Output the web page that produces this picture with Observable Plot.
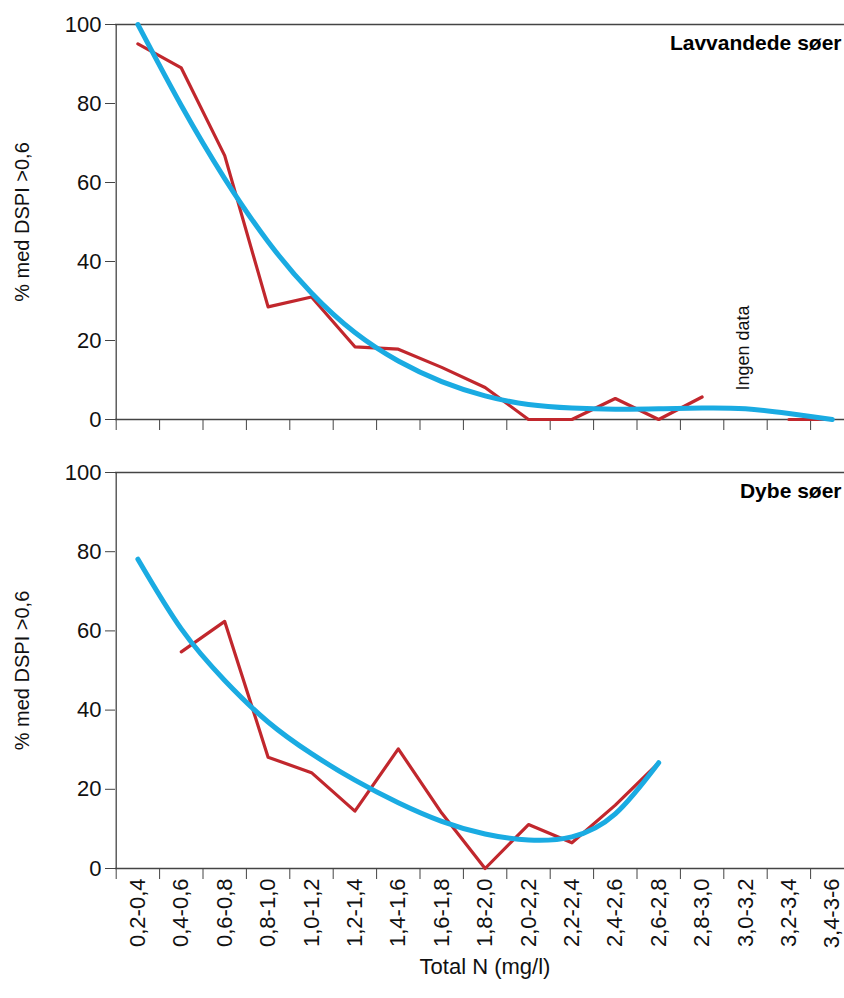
<!DOCTYPE html>
<html>
<head>
<meta charset="utf-8">
<script src="https://cdn.jsdelivr.net/npm/d3@7"></script>
<script src="https://cdn.jsdelivr.net/npm/@observablehq/plot@0.6"></script>
<style>
  html, body { margin: 0; padding: 0; background: #fff; }
  #chart { width: 844px; }
  #chart svg { display: block; }
</style>
</head>
<body>
<div id="chart"></div>
<script>
// Categories (Total N, mg/l)
const categories = ["0,2-0,4","0,4-0,6","0,6-0,8","0,8-1,0","1,0-1,2","1,2-1,4","1,4-1,6","1,6-1,8","1,8-2,0","2,0-2,2","2,2-2,4","2,4-2,6","2,6-2,8","2,8-3,0","3,0-3,2","3,2-3,4","3,4-3-6"];

// Lavvandede søer (shallow lakes)
const shallowObserved = [95.1, 89.0, 66.8, 28.5, 31.0, 18.4, 17.8, 13.2, 8.1, 0, 0, 5.3, 0, 5.7, null, 0, 0];
const shallowFit      = [100, 79.5, 61, 45, 32, 22, 14.8, 9.6, 6.0, 3.8, 2.9, 2.6, 2.7, 2.9, 2.7, 1.5, 0];

// Dybe søer (deep lakes)
const deepObserved = [null, 54.7, 62.4, 28.1, 24.2, 14.5, 30.2, 14.0, 0, 11.1, 6.5, 16.0, 26.7, null, null, null, null];
const deepFit      = [78.1, 60.5, 47.5, 37.0, 29.0, 22.3, 16.6, 11.9, 8.7, 7.2, 8.0, 13.8, 26.7, null, null, null, null];

const yTicks = [0, 20, 40, 60, 80, 100];
const yLabel = "% med DSPI >0,6";
const xLabel = "Total N (mg/l)";
const titles = ["Lavvandede søer", "Dybe søer"];
const noDataNote = "Ingen data";
const noDataCategory = "3,0-3,2";

const RED = "#c1272d";
const BLUE = "#1aabe2";
const AXIS = "#444";
const FONT = "'Liberation Sans', Arial, Helvetica, sans-serif";

const idx = categories.map((c, i) => i);
const boundaries = idx.map(i => i - 0.5);
const series = arr => arr.map((v, i) => ({i, v}));

function panel({observed, fit, title, height, marginTop, marginBottom, showLabels, note}) {
  const marks = [
    Plot.ruleY([0, 100], {stroke: AXIS, strokeWidth: 1.3}),
    Plot.ruleX([-0.5], {stroke: AXIS, strokeWidth: 1.3}),
    Plot.axisY({ticks: yTicks, tickSize: 10, tickPadding: 4, label: null, stroke: AXIS, fill: "#111", fontSize: 22}),
    Plot.axisX({ticks: boundaries, tickSize: 11, tickFormat: () => "", label: null, stroke: AXIS}),
    Plot.text([yLabel], {text: d => d, frameAnchor: "left", textAnchor: "middle", lineAnchor: "middle", rotate: -90, dx: -93, fontSize: 20, fill: "#111"}),
    Plot.text([title], {text: d => d, frameAnchor: "top-right", textAnchor: "end", lineAnchor: "middle", dx: -3, dy: 19, fontSize: 21, fontWeight: "bold", fill: "#000"}),
    Plot.line(series(observed), {x: "i", y: "v", stroke: RED, strokeWidth: 3.2}),
    Plot.line(series(fit), {x: "i", y: "v", stroke: BLUE, strokeWidth: 5, curve: "natural", strokeLinecap: "round"})
  ];
  if (note) {
    marks.push(Plot.text([note], {x: () => categories.indexOf(noDataCategory), y: () => 0, text: d => d, rotate: -90, textAnchor: "start", dy: -29, dx: -2, fontSize: 18, fill: "#111"}));
  }
  if (showLabels) {
    marks.push(Plot.axisX({ticks: idx, tickSize: 0, tickPadding: 10, tickRotate: -90, tickFormat: i => categories[i], label: null, fontSize: 22, fill: "#111"}));
    marks.push(Plot.text([xLabel], {text: d => d, frameAnchor: "bottom", lineAnchor: "middle", dy: 98, dx: 5, fontSize: 22, fill: "#111"}));
  }
  return Plot.plot({
    width: 844,
    height,
    marginLeft: 115,
    marginRight: 0,
    marginTop,
    marginBottom,
    x: {type: "linear", domain: [-0.5, categories.length - 0.5], range: [115.7, 853.5]},
    y: {domain: [0, 100]},
    style: {fontFamily: FONT, fontSize: "20px", background: "#fff", color: "#111"},
    marks
  });
}

const chart = document.getElementById("chart");
chart.append(panel({observed: shallowObserved, fit: shallowFit, title: titles[0], height: 445, marginTop: 24, marginBottom: 26, showLabels: false, note: noDataNote}));
chart.append(panel({observed: deepObserved, fit: deepFit, title: titles[1], height: 553, marginTop: 27, marginBottom: 130, showLabels: true}));
</script>
</body>
</html>
